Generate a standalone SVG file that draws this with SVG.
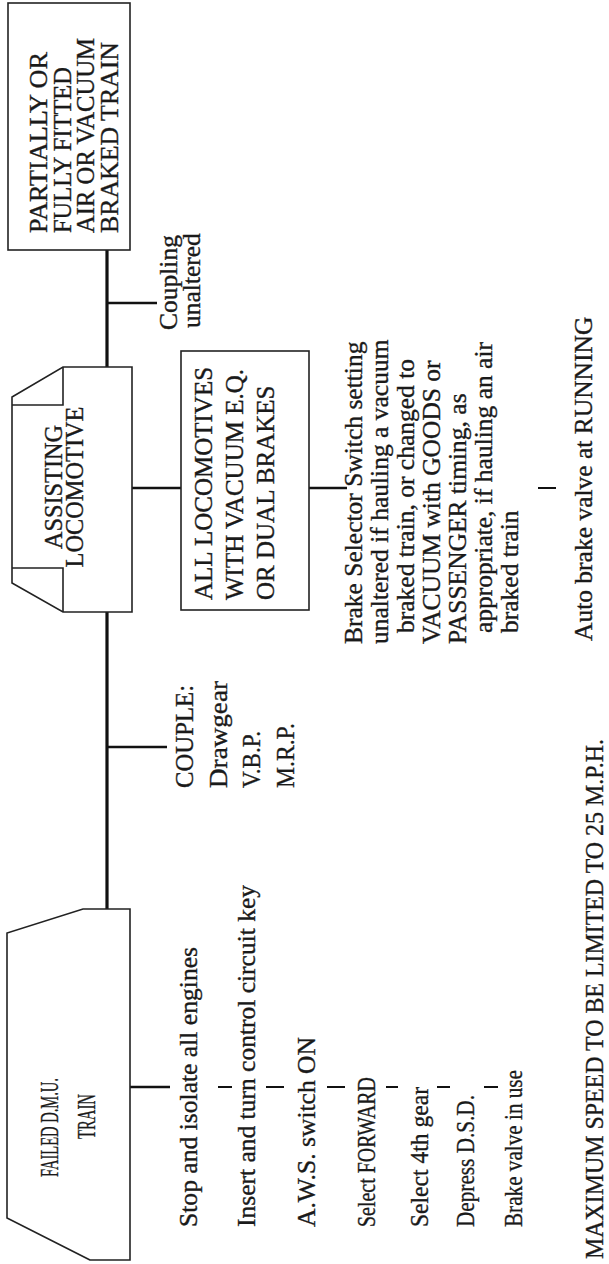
<svg xmlns="http://www.w3.org/2000/svg" width="609" height="1264" viewBox="0 0 609 1264">
<style>
.t{font-family:"Liberation Serif","Times New Roman",serif;font-size:25.5px;fill:#1a1a1a;stroke:#1a1a1a;stroke-width:0.35}
.b{font-size:25px}
.box{fill:none;stroke:#222;stroke-width:1.6;stroke-linejoin:miter}
.trunk{fill:none;stroke:#111;stroke-width:3.2}
.stub{fill:none;stroke:#111;stroke-width:2.4}
.tick{fill:none;stroke:#111;stroke-width:2}
</style>
<rect width="609" height="1264" fill="#ffffff"/>
<g transform="translate(0,1264) rotate(-90)">
  <g id="connectors">
    <path class="trunk" d="M355,107 H652 M897,107 H1014"/>
    <path class="stub" d="M177,130 V170 M517,107 V167 M961,107 V157 M776,132 V181 M776,309 V347"/>
    <path class="tick" d="M177,218 V232 M177,266 V284 M177,327 V345 M177,386 V398 M177,437 V450 M177,484 V498 M776,538 V556"/>
  </g>
  <g id="failed-dmu-train">
    <path class="box" d="M4,90 L46,7 L331,7 L355,83 L355,130 L4,130 Z"/>
    <text class="t" x="87" y="58" style="font-size:26px" textLength="99" lengthAdjust="spacingAndGlyphs">FAILED D.M.U.</text>
    <text class="t" x="125" y="95" style="font-size:26px" textLength="45" lengthAdjust="spacingAndGlyphs">TRAIN</text>
  </g>
  <g id="failed-steps">
    <text class="t" x="37" y="197" textLength="280" lengthAdjust="spacingAndGlyphs">Stop and isolate all engines</text>
    <text class="t" x="37" y="255" textLength="342" lengthAdjust="spacingAndGlyphs">Insert and turn control circuit key</text>
    <text class="t" x="37" y="315" textLength="190" lengthAdjust="spacingAndGlyphs">A.W.S. switch ON</text>
    <text class="t" x="37" y="375" textLength="150" lengthAdjust="spacingAndGlyphs">Select FORWARD</text>
    <text class="t" x="37" y="428" textLength="140" lengthAdjust="spacingAndGlyphs">Select 4th gear</text>
    <text class="t" x="37" y="474" textLength="132" lengthAdjust="spacingAndGlyphs">Depress D.S.D.</text>
    <text class="t" x="37" y="522" textLength="157" lengthAdjust="spacingAndGlyphs">Brake valve in use</text>
  </g>
  <g id="speed-limit">
    <text class="t" x="5" y="603" textLength="520" lengthAdjust="spacingAndGlyphs">MAXIMUM SPEED TO BE LIMITED TO 25 M.P.H.</text>
  </g>
  <g id="couple">
    <text class="t" x="476" y="193" textLength="103" lengthAdjust="spacingAndGlyphs">COUPLE:</text>
    <text class="t" x="476" y="227" textLength="107" lengthAdjust="spacingAndGlyphs">Drawgear</text>
    <text class="t" x="476" y="260" textLength="57" lengthAdjust="spacingAndGlyphs">V.B.P.</text>
    <text class="t" x="476" y="294" textLength="65" lengthAdjust="spacingAndGlyphs">M.R.P.</text>
  </g>
  <g id="assisting-locomotive">
    <path class="box" d="M652,63 L652,132 L897,132 L897,63 L867,12 L681,12 Z"/>
    <path class="box" d="M696,12 L696,63 L652,63 M859,12 L859,63 L897,63"/>
    <text class="t b" x="777" y="62" text-anchor="middle" textLength="124" lengthAdjust="spacingAndGlyphs">ASSISTING</text>
    <text class="t b" x="777" y="83" text-anchor="middle" textLength="161" lengthAdjust="spacingAndGlyphs">LOCOMOTIVE</text>
  </g>
  <g id="all-locomotives">
    <rect class="box" x="654" y="181" width="259" height="128"/>
    <text class="t b" x="664" y="212">ALL LOCOMOTIVES</text>
    <text class="t b" x="664" y="243">WITH VACUUM E.Q.</text>
    <text class="t b" x="664" y="274">OR DUAL BRAKES</text>
  </g>
  <g id="brake-selector">
    <text class="t" x="620" y="362">Brake Selector Switch setting</text>
    <text class="t" x="620" y="388">unaltered if hauling a vacuum</text>
    <text class="t" x="631" y="414">braked train, or changed to</text>
    <text class="t" x="620" y="440">VACUUM with GOODS or</text>
    <text class="t" x="620" y="466">PASSENGER timing, as</text>
    <text class="t" x="631" y="492">appropriate, if hauling an air</text>
    <text class="t" x="631" y="518">braked train</text>
  </g>
  <g id="auto-brake">
    <text class="t" x="623" y="592">Auto brake valve at RUNNING</text>
  </g>
  <g id="coupling">
    <text class="t" x="934" y="177">Coupling</text>
    <text class="t" x="936" y="200">unaltered</text>
  </g>
  <g id="partially-fitted-train">
    <rect class="box" x="1014" y="8" width="247" height="122"/>
    <text class="t b" x="1031" y="47" textLength="181" lengthAdjust="spacingAndGlyphs">PARTIALLY OR</text>
    <text class="t b" x="1031" y="70.5" textLength="166" lengthAdjust="spacingAndGlyphs">FULLY FITTED</text>
    <text class="t b" x="1031" y="94" textLength="195" lengthAdjust="spacingAndGlyphs">AIR OR VACUUM</text>
    <text class="t b" x="1031" y="117.5" textLength="191" lengthAdjust="spacingAndGlyphs">BRAKED TRAIN</text>
  </g>
</g>
</svg>
